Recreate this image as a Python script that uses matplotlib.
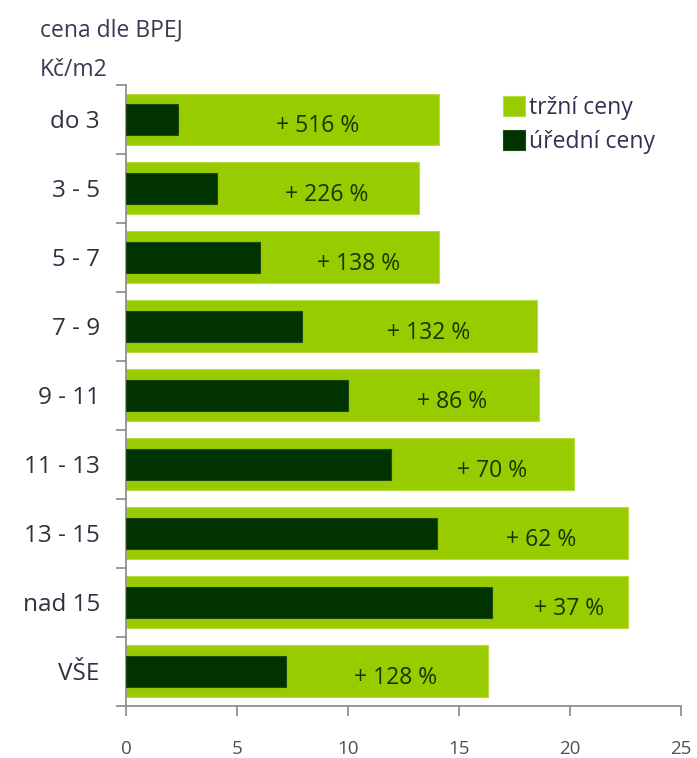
import matplotlib
matplotlib.use("Agg")
import matplotlib.pyplot as plt
import numpy as np

categories = ["do 3", "3 - 5", "5 - 7", "7 - 9", "9 - 11", "11 - 13", "13 - 15", "nad 15", "VŠE"]
market = [14.1, 13.2, 14.1, 18.5, 18.6, 20.2, 22.6, 22.6, 16.3]
official = [2.34, 4.1, 6.04, 7.93, 10.0, 11.94, 14.0, 16.5, 7.2]
diff_labels = ["+ 516 %", "+ 226 %", "+ 138 %", "+ 132 %", "+ 86 %", "+ 70 %", "+ 62 %", "+ 37 %", "+ 128 %"]
xticks = [0, 5, 10, 15, 20, 25]

plt.rcParams['font.family'] = ['Open Sans', 'DejaVu Sans']

LIGHT = "#99cc00"
DARK = "#003300"
TXT = "#505050"

fig = plt.figure(figsize=(6.97, 7.58), dpi=100)
ax = fig.add_axes([0.181, 0.069, 0.796, 0.819])

y = np.arange(len(categories))
ax.barh(y, market, height=0.75, color=LIGHT, edgecolor="#b5dc40", linewidth=0.8, label="tržní ceny", zorder=2)
ax.barh(y, official, height=0.45, color=DARK, edgecolor="#1f4a10", linewidth=0.8, label="úřední ceny", zorder=3)

for yi, m, o, lab in zip(y, market, official, diff_labels):
    ax.text((m + o) / 2 + 0.4, yi + 0.1, lab, ha="center", va="center", fontsize=16.5, color="#1a3300", zorder=4)

ax.set_xlim(0, 25)
ax.set_ylim(len(categories) - 0.5, -0.5)
ax.set_xticks(xticks)
ax.set_xticklabels([str(t) for t in xticks], fontsize=13.5, color=TXT)
ax.set_yticks(y)
ax.set_yticklabels(categories, fontsize=17.5, color="#303040")
ax.tick_params(axis="y", length=0, pad=19)
ax.set_yticks(np.arange(len(categories) + 1) - 0.5, minor=True)
ax.tick_params(axis="y", which="minor", length=7, color="#888888", width=1.2, direction="out")
ax.tick_params(axis="x", length=7, color="#888888", width=1.2, direction="out", pad=18)

for s in ["top", "right"]:
    ax.spines[s].set_visible(False)
for s in ["left", "bottom"]:
    ax.spines[s].set_color("#888888")
    ax.spines[s].set_linewidth(1.2)

leg = ax.legend(loc="upper left", bbox_to_anchor=(0.655, 1.005), frameon=False, fontsize=16.5,
                handlelength=0.95, handleheight=0.95, handletextpad=0.15, labelspacing=0.45, borderaxespad=0.2)
for t in leg.get_texts():
    t.set_color("#303050")

fig.text(0.057, 0.96, "cena dle BPEJ", fontsize=16.5, color="#3a3a50", va="center", ha="left")
fig.text(0.057, 0.908, "Kč/m2", fontsize=16.5, color="#3a3a50", va="center", ha="left")

fig.savefig("out.png", dpi=100)
